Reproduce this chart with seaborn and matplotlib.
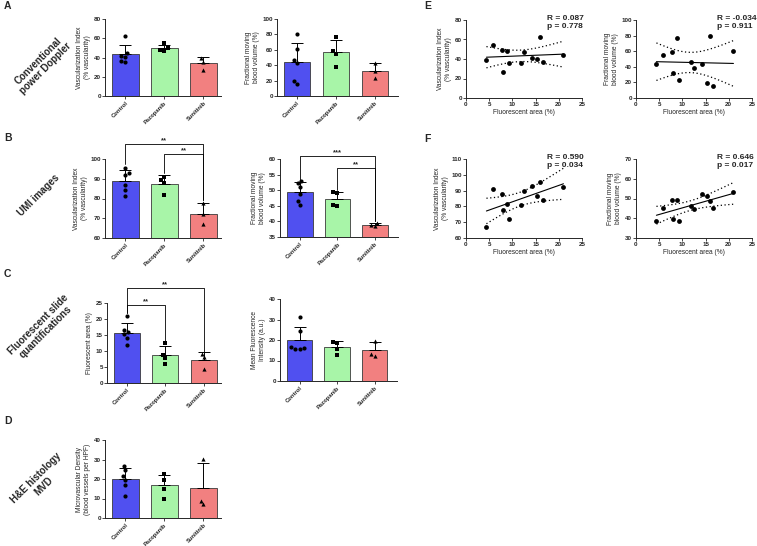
import numpy as np
import pandas as pd
import matplotlib.pyplot as plt
import seaborn as sns

# grupos y estilos
groups = ['Control', 'Pazopanib', 'Sunitinib']
group_colors = ['#5050F0', '#A8F5A8', '#F28080']
group_markers = ['o', 's', '^']

# valores por animal (mismo orden en cada lista: Control x6, Pazopanib x4, Sunitinib x3)
fluor_area = {'Control': [21.0, 16.5, 15.9, 15.2, 14.2, 11.8],
              'Pazopanib': [12.5, 8.8, 7.8, 5.8],
              'Sunitinib': [9.2, 8.0, 4.4]}
conv_vi = {'Control': [44.5, 36.5, 62.5, 40.5, 41.5, 35.8],
           'Pazopanib': [46.8, 47.8, 49.5, 54.8],
           'Sunitinib': [35.5, 27.0, 39.0]}
conv_fmbv = {'Control': [60.5, 15.5, 80.0, 19.5, 43.5, 46.5],
             'Pazopanib': [38.0, 77.0, 58.5, 54.5],
             'Sunitinib': [23.0, 32.5, 43.5]}
umi_vi = {'Control': [92.1, 84.3, 95.4, 86.8, 92.9, 81.1],
          'Pazopanib': [89.5, 81.7, 88.1, 91.0],
          'Sunitinib': [72.2, 77.5, 67.0]}
umi_fmbv = {'Control': [53.1, 45.2, 48.9, 51.1, 52.3, 46.4],
            'Pazopanib': [44.9, 49.4, 49.1, 45.2],
            'Sunitinib': [38.4, 39.6, 38.8]}
mean_fluo = {'Control': [31.0, 24.5, 16.5, 16.0, 15.5, 15.5],
             'Pazopanib': [19.2, 18.6, 15.4, 12.6],
             'Sunitinib': [19.5, 13.3, 12.4]}
mvd = {'Control': [26.7, 24.7, 21.3, 19.6, 17.0, 11.1],
       'Pazopanib': [22.5, 19.6, 15.0, 9.7],
       'Sunitinib': [30.1, 8.9, 7.3]}

# textos de correlacion (E y F)
stats_e_vi = 'R = 0.087\np = 0.778'
stats_e_fmbv = 'R = -0.034\np = 0.911'
stats_f_vi = 'R = 0.590\np = 0.034'
stats_f_fmbv = 'R = 0.646\np = 0.017'

sns.set_style('ticks')
plt.rcParams['font.family'] = ['Liberation Sans', 'DejaVu Sans']
plt.rcParams['font.weight'] = 'bold'

W, H = 757, 546
fig = plt.figure(figsize=(W / 100, H / 100), dpi=100)


def new_ax(x0, x1, y0, y1):  # rectangulo en pixeles de la imagen
    return fig.add_axes([x0 / W, 1 - y1 / H, (x1 - x0) / W, (y1 - y0) / H])


def style(ax):
    sns.despine(ax=ax)
    for s in ['left', 'bottom']:
        ax.spines[s].set_linewidth(0.7)
    ax.tick_params(length=2, width=0.6, labelsize=4.5, pad=1)


def to_long(values):
    rows = [(g, v) for g in groups for v in values[g]]
    return pd.DataFrame(rows, columns=['group', 'value'])


def bar_panel(ax, values, ylim, yticks, ylabel, xmax=2.45):
    df = to_long(values)
    sns.barplot(data=df, x='group', y='value', order=groups, hue='group', hue_order=groups,
                palette=group_colors, saturation=1, errorbar=None, width=0.68,
                edgecolor='#3a3a3a', linewidth=0.6, legend=False, ax=ax)
    for i, g in enumerate(groups):
        v = np.array(values[g])
        ax.errorbar(i, v.mean(), yerr=[[0], [v.std(ddof=1)]], color='black', lw=0.7,
                    capsize=4, capthick=0.7, zorder=3)
        sns.swarmplot(data=df[df['group'] == g], x='group', y='value', order=groups,
                      marker=group_markers[i], color='black', size=3, linewidth=0, ax=ax, zorder=4)
    ax.set_xlim(-0.52, xmax)
    ax.set_ylim(*ylim)
    ax.set_yticks(yticks)
    ax.set_xlabel('')
    ax.set_ylabel(ylabel, fontsize=4.8, labelpad=2)
    style(ax)
    ax.set_xticks(range(3))
    ax.set_xticklabels(groups, rotation=45, ha='right', rotation_mode='anchor', fontsize=4.2)


def bracket(ax, x1, x2, y, y1_end, y2_end, label):
    ax.plot([x1, x1, x2, x2], [y1_end, y, y, y2_end], color='black', lw=0.6, clip_on=False)
    ax.text((x1 + x2) / 2, y, label, ha='center', va='bottom', fontsize=5.5)


def scatter_panel(ax, yvalues, ylim, yticks, ylabel, stat_text):
    x = np.array([v for g in groups for v in fluor_area[g]])
    y = np.array([v for g in groups for v in yvalues[g]])
    sns.regplot(x=x, y=y, ci=None, color='black', truncate=True,
                scatter_kws={'s': 12, 'linewidths': 0, 'alpha': 1}, line_kws={'lw': 0.8}, ax=ax)
    # banda de confianza del 95% como lineas punteadas
    n = len(x)
    slope, icpt = np.polyfit(x, y, 1)
    xx = np.linspace(x.min(), x.max(), 60)
    resid = y - (slope * x + icpt)
    s = np.sqrt((resid ** 2).sum() / (n - 2))
    se = s * np.sqrt(1 / n + (xx - x.mean()) ** 2 / ((x - x.mean()) ** 2).sum())
    fit = slope * xx + icpt
    for band in (fit + 2.201 * se, fit - 2.201 * se):
        ax.plot(xx, band, color='black', lw=0.9, ls=(0, (1, 2)))
    ax.set_xlim(0, 25)
    ax.set_xticks([0, 5, 10, 15, 20, 25])
    ax.set_ylim(*ylim)
    ax.set_yticks(yticks)
    ax.set_xlabel('Fluorescent area (%)', fontsize=4.8, labelpad=1.5)
    ax.set_ylabel(ylabel, fontsize=4.8, labelpad=2)
    ax.text(0.70, 1.06, stat_text, transform=ax.transAxes, ha='left', va='top',
            fontsize=6, fontweight='bold', linespacing=1.15)
    style(ax)


# A
ax = new_ax(105, 221, 19, 96)
bar_panel(ax, conv_vi, (0, 80), [0, 20, 40, 60, 80], 'Vascularization Index\n(% vascularity)')
ax = new_ax(277, 398, 19, 96)
bar_panel(ax, conv_fmbv, (0, 100), [0, 20, 40, 60, 80, 100], 'Fractional moving\nblood volume (%)', xmax=2.6)

# B
ax = new_ax(105, 221, 159, 238)
bar_panel(ax, umi_vi, (60, 100), [60, 70, 80, 90, 100], 'Vascularization Index\n(% vascularity)')
bracket(ax, 0, 2, 107.7, 97.4, 79.0, '**')
bracket(ax, 1, 2, 102.6, 93.1, 79.0, '**')
ax = new_ax(280, 398, 159, 237)
bar_panel(ax, umi_fmbv, (35, 60), [35, 40, 45, 50, 55, 60], 'Fractional moving\nblood volume (%)', xmax=2.6)
bracket(ax, 0, 2, 61.0, 53.3, 40.0, '***')
bracket(ax, 1, 2, 57.2, 50.1, 40.0, '**')

# C
ax = new_ax(107, 221, 303, 383)
bar_panel(ax, fluor_area, (0, 25), [0, 5, 10, 15, 20, 25], 'Fluorescent area (%)')
bracket(ax, 0, 2, 29.6, 21.8, 9.8, '**')
bracket(ax, 0, 1, 24.4, 21.8, 12.9, '**')
ax = new_ax(280, 397, 299, 381)
bar_panel(ax, mean_fluo, (0, 40), [0, 10, 20, 30, 40], 'Mean Fluorescence\nIntensity (a.u.)', xmax=2.6)

# D
ax = new_ax(105, 221, 440, 518)
bar_panel(ax, mvd, (0, 40), [0, 10, 20, 30, 40], 'Microvascular Density\n(blood vessels per HPF)')

# E y F
ax = new_ax(466, 582, 20, 98)
scatter_panel(ax, conv_vi, (0, 80), [0, 20, 40, 60, 80], 'Vascularization Index\n(% vascularity)', stats_e_vi)
ax = new_ax(636, 752, 20, 98)
scatter_panel(ax, conv_fmbv, (0, 100), [0, 20, 40, 60, 80, 100], 'Fractional moving\nblood volume (%)', stats_e_fmbv)
ax = new_ax(466, 582, 159, 238)
scatter_panel(ax, umi_vi, (60, 110), [60, 70, 80, 90, 100, 110], 'Vascularization Index\n(% vascularity)', stats_f_vi)
ax = new_ax(636, 752, 159, 238)
scatter_panel(ax, umi_fmbv, (30, 70), [30, 40, 50, 60, 70], 'Fractional moving\nblood volume (%)', stats_f_fmbv)

# letras de panel
for letter, px, py in [('A', 4, 6), ('B', 4, 138), ('C', 4, 274), ('D', 4, 421), ('E', 424, 6), ('F', 424, 139)]:
    fig.text(px / W, 1 - py / H, letter, ha='left', va='center', fontsize=7.5, fontweight='bold')

# etiquetas de fila giradas
for label, px, py in [('Conventional\npower Doppler', 42, 65), ('UMI images', 39, 195),
                      ('Fluorescent slide\nquantifications', 42, 328), ('H&E histology\nMVD', 40, 482)]:
    fig.text(px / W, 1 - py / H, label, rotation=45, ha='center', va='center',
             fontsize=7, fontweight='bold', multialignment='center', linespacing=1.1)

fig.savefig('out.png', dpi=100)
